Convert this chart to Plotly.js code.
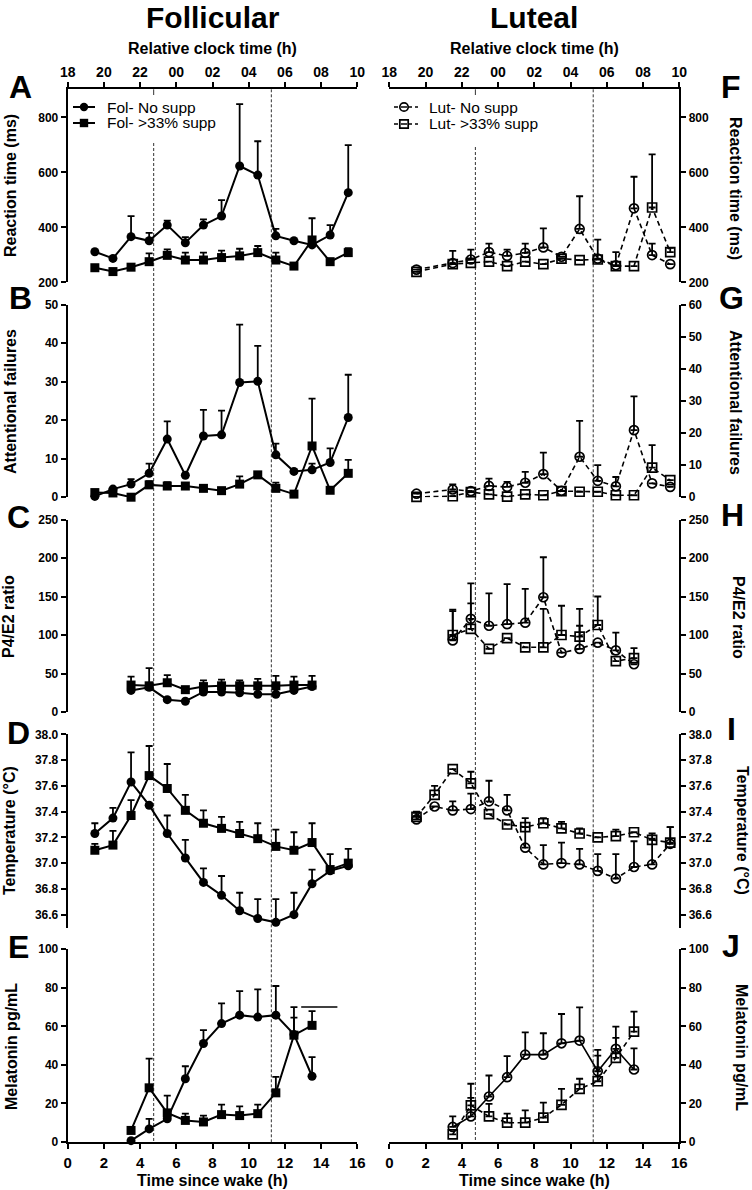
<!DOCTYPE html>
<html><head><meta charset="utf-8">
<script src="https://cdn.plot.ly/plotly-3.0.1.min.js"></script>
<style>html,body{margin:0;padding:0;background:#fff}</style>
</head><body><div id="chart" style="width:752px;height:1190px"></div>
<script>
const W = 752, H = 1190;
const FONT = 'Liberation Sans, Arial, Helvetica, sans-serif';

// ---------- DATA ----------
const hrsFol = [1.5,2.5,3.5,4.5,5.5,6.5,7.5,8.5,9.5,10.5,11.5,12.5,13.5,14.5,15.5];
const hrsLutPvt = [1.5,3.5,4.5,5.5,6.5,7.5,8.5,9.5,10.5,11.5,12.5,13.5,14.5,15.5];
const hrsTemp = [1.5,2.5,3.5,4.5,5.5,6.5,7.5,8.5,9.5,10.5,11.5,12.5,13.5,14.5,15.5];
const hrsHorm = [3.5,4.5,5.5,6.5,7.5,8.5,9.5,10.5,11.5,12.5,13.5];

const clockVals = [18,20,22,24,26,28,30,32,34];
const clockText = ['18','20','22','00','02','04','06','08','10'];
const wakeTicks = [0,2,4,6,8,10,12,14,16];
const markerLines = [4.75, 11.25];

// A: Reaction time, follicular
const rtFolNo     = [311,287,366,351,408,344,408,441,623,590,369,351,336,372,526];
const rtFolNoErr  = [0,0,75,29,16,20,21,58,225,123,25,0,0,36,173];
const rtFolSup    = [253,239,255,275,298,281,281,290,296,308,281,259,354,275,308];
const rtFolSupErr = [0,0,0,30,22,27,27,25,26,24,27,0,79,0,16];
// F: Reaction time, luteal
const rtLutNo     = [246,270,283,310,296,307,327,293,394,286,262,469,299,266];
const rtLutNoErr  = [0,44,36,31,23,34,69,0,119,69,48,115,42,0];
const rtLutSup    = [238,266,271,275,259,275,266,286,281,283,259,259,472,310];
const rtLutSupErr = [0,0,0,0,0,0,0,0,0,0,0,0,193,15];

// B: Attentional failures, follicular
const afFolNo     = [0.2,2.1,3.4,6.2,15.1,5.7,15.9,16.2,29.8,30.1,11.0,6.7,7.1,9.0,20.7];
const afFolNoErr  = [0,0,1.3,2.5,4.6,0,6.8,6.3,15.0,9.2,2.9,0,1.6,3.7,11.1];
const afFolSup    = [1.2,1.1,0.0,3.2,2.9,2.9,2.3,1.7,3.4,5.8,2.3,0.8,13.3,1.8,6.2];
const afFolSupErr = [0,0,0,1.0,1.0,0,0,0,2.0,0,1.5,0,12.3,0,3.5];
// G: Attentional failures, luteal
const afLutNo     = [1.1,2.4,1.9,3.5,3.2,4.5,7.2,2.0,12.6,5.1,3.4,20.9,4.3,3.2];
const afLutNoErr  = [0,1.6,0,2.3,1.6,3.4,6.7,0,11.2,4.9,2.9,10.5,0,0];
const afLutSup    = [0.1,0.3,1.6,0.9,0.2,0.9,0.6,1.9,1.7,1.7,0.6,0.6,9.2,5.3];
const afLutSupErr = [0,0,0,0,0,0,0,0,0,0,0,0,7.0,0];

// C: P4/E2 ratio, follicular
const peFolNo     = [28,32,16,14,26,26,25,23,23,28,33];
const peFolNoErr  = [0,0,0,0,0,0,0,0,0,0,0];
const peFolSup    = [35,34,38,29,33,34,34,34,34,35,35];
const peFolSupErr = [11,23,10,0,8,8,7,9,13,11,12];
// H: P4/E2 ratio, luteal
const peLutNo     = [93,121,112,114,116,149,77,82,90,80,62];
const peLutNoErr  = [38,46,42,52,44,52,0,30,0,23,0];
const peLutSup    = [100,108,82,96,84,84,100,98,113,66,70];
const peLutSupErr = [33,33,0,0,0,50,38,36,37,0,13];

// D: Temperature, follicular
const tFolNo     = [37.23,37.35,37.63,37.45,37.23,37.04,36.85,36.75,36.63,36.57,36.54,36.60,36.84,36.94,36.98];
const tFolNoErr  = [0.08,0.08,0.23,0,0.14,0.14,0.11,0.15,0.14,0.15,0.18,0.17,0.11,0,0];
const tFolSup    = [37.10,37.14,37.37,37.68,37.58,37.41,37.31,37.27,37.23,37.19,37.13,37.10,37.16,36.95,37.00];
const tFolSupErr = [0.05,0.11,0.12,0.23,0.19,0.12,0.10,0.09,0.09,0.12,0.13,0.14,0.15,0.12,0.11];
// I: Temperature, luteal
const tLutNo     = [37.34,37.44,37.41,37.42,37.48,37.41,37.12,36.99,37.00,36.99,36.94,36.88,36.97,36.99,37.15];
const tLutNoErr  = [0.05,0,0.07,0.12,0.16,0.12,0.16,0.15,0.16,0.12,0.13,0.19,0.20,0.20,0.13];
const tLutSup    = [37.36,37.53,37.73,37.62,37.38,37.30,37.28,37.31,37.27,37.23,37.20,37.21,37.24,37.18,37.16];
const tLutSupErr = [0.04,0.07,0,0.09,0,0,0.07,0.04,0.05,0.04,0,0.05,0,0.05,0.12];

// E: Melatonin, follicular
const melFolNo     = [0.7,6.8,12.0,32.8,51.1,61.4,65.8,64.8,65.8,55.8,34.1];
const melFolNoErr  = [0,5.2,4.0,6.5,6.9,10.5,12.5,14.4,15.1,14.2,9.9];
const melFolSup    = [6.0,28.1,15.1,11.2,10.4,14.2,13.7,14.7,25.5,55.4,60.5];
const melFolSupErr = [0,15.1,9.0,3.5,3.3,5.2,4.8,4.7,8.3,9.1,7.4];
const sigBarX = [12.9,14.9];
const sigBarY = [70,70];
// J: Melatonin, luteal
const melLutNo     = [7.8,13.3,23.6,33.6,45.3,45.3,51.2,52.6,36.7,48.3,37.6];
const melLutNoErr  = [5.5,16.9,10.9,10.9,11.6,11.1,15.2,17.2,11.1,11.5,11.0];
const melLutSup    = [4.0,19.0,13.3,10.0,10.0,12.6,19.3,27.6,31.5,43.6,57.2];
const melLutSupErr = [0,3.9,6.5,4.7,6.4,7.8,8.3,5.2,13.3,10.4,10.4];

// ---------- HELPERS ----------
const px = v => v / W;
const py = v => 1 - v / H;
const dom = (top, bot) => [1 - bot / H, 1 - top / H];

function series(x, y, err, xa, ya, sym, dash) {
  const open = sym.indexOf('open') >= 0;
  return {
    type: 'scatter', mode: 'lines+markers', x: x, y: y, xaxis: xa, yaxis: ya,
    cliponaxis: false, showlegend: false, hoverinfo: 'skip',
    line: {color: '#000', width: open ? 1.6 : 2, dash: dash},
    marker: {symbol: sym, size: 9, color: '#000', line: {color: '#000', width: open ? 1.7 : 0}},
    error_y: {type: 'data', symmetric: false, array: err, arrayminus: err.map(() => 0),
              color: '#000', thickness: 1.8, width: 3.5}
  };
}
const DASH = '5px,3.5px';

const data = [
  series(hrsFol, rtFolNo, rtFolNoErr, 'x', 'y', 'circle', 'solid'),
  series(hrsFol, rtFolSup, rtFolSupErr, 'x', 'y', 'square', 'solid'),
  series(hrsFol, afFolNo, afFolNoErr, 'x', 'y2', 'circle', 'solid'),
  series(hrsFol, afFolSup, afFolSupErr, 'x', 'y2', 'square', 'solid'),
  series(hrsHorm, peFolNo, peFolNoErr, 'x', 'y3', 'circle', 'solid'),
  series(hrsHorm, peFolSup, peFolSupErr, 'x', 'y3', 'square', 'solid'),
  series(hrsTemp, tFolNo, tFolNoErr, 'x', 'y4', 'circle', 'solid'),
  series(hrsTemp, tFolSup, tFolSupErr, 'x', 'y4', 'square', 'solid'),
  series(hrsHorm, melFolNo, melFolNoErr, 'x', 'y5', 'circle', 'solid'),
  series(hrsHorm, melFolSup, melFolSupErr, 'x', 'y5', 'square', 'solid'),
  {type:'scatter', mode:'lines', x: sigBarX, y: sigBarY, xaxis:'x', yaxis:'y5', cliponaxis:false,
   line:{color:'#000', width:1.5}, showlegend:false, hoverinfo:'skip'},

  series(hrsLutPvt, rtLutNo, rtLutNoErr, 'x2', 'y6', 'circle-open', DASH),
  series(hrsLutPvt, rtLutSup, rtLutSupErr, 'x2', 'y6', 'square-open', DASH),
  series(hrsLutPvt, afLutNo, afLutNoErr, 'x2', 'y7', 'circle-open', DASH),
  series(hrsLutPvt, afLutSup, afLutSupErr, 'x2', 'y7', 'square-open', DASH),
  series(hrsHorm, peLutNo, peLutNoErr, 'x2', 'y8', 'circle-open', DASH),
  series(hrsHorm, peLutSup, peLutSupErr, 'x2', 'y8', 'square-open', DASH),
  series(hrsTemp, tLutNo, tLutNoErr, 'x2', 'y9', 'circle-open', DASH),
  series(hrsTemp, tLutSup, tLutSupErr, 'x2', 'y9', 'square-open', DASH),
  series(hrsHorm, melLutNo, melLutNoErr, 'x2', 'y10', 'circle-open', 'solid'),
  series(hrsHorm, melLutSup, melLutSupErr, 'x2', 'y10', 'square-open', DASH),

  // carriers for the top clock-time axes
  {type:'scatter', mode:'markers', x: clockVals, y: clockVals.map(() => null), xaxis:'x3', yaxis:'y',
   showlegend:false, hoverinfo:'skip', marker:{opacity:0}},
  {type:'scatter', mode:'markers', x: clockVals, y: clockVals.map(() => null), xaxis:'x4', yaxis:'y6',
   showlegend:false, hoverinfo:'skip', marker:{opacity:0}}
];

// ---------- AXES ----------
const axBase = {
  showline: true, linecolor: '#000', linewidth: 2, ticks: 'outside', ticklen: 5, tickwidth: 2,
  tickcolor: '#000', showgrid: false, zeroline: false, fixedrange: true
};
const yTickFont = {family: FONT, size: 12, weight: 700, color: '#000'};
const xLeftDom = [px(67.7), px(357.3)];
const xRightDom = [px(389.3), px(679.3)];

function yax(domain, range, tickvals, anchor, side, fmt) {
  const a = Object.assign({}, axBase, {domain: domain, range: range, tickvals: tickvals,
    anchor: anchor, side: side, tickfont: yTickFont});
  if (fmt) a.tickformat = fmt;
  return a;
}

const domA = dom(89.3, 282.3), domB = dom(304.7, 497.2), domC = dom(519.5, 712.0),
      domD = dom(734.4, 927.5), domE = dom(949.2, 1142.0);

const layout = {
  width: W, height: H, margin: {l: 0, r: 0, t: 0, b: 0},
  paper_bgcolor: '#fff', plot_bgcolor: 'rgba(0,0,0,0)',
  font: {family: FONT, color: '#000'},
  showlegend: false,
  xaxis: Object.assign({}, axBase, {domain: xLeftDom, range: [0,16], anchor: 'y5', tickvals: wakeTicks,
    ticklabelstandoff: 1, tickfont: {family: FONT, size: 15, weight: 700, color: '#000'}}),
  xaxis2: Object.assign({}, axBase, {domain: xRightDom, range: [0,16], anchor: 'y10', tickvals: wakeTicks,
    ticklabelstandoff: 1, tickfont: {family: FONT, size: 15, weight: 700, color: '#000'}}),
  xaxis3: Object.assign({}, axBase, {overlaying: 'x', side: 'top', anchor: 'y', range: [18,34],
    tickvals: clockVals, ticktext: clockText, tickfont: {family: FONT, size: 14, weight: 700, color: '#000'}}),
  xaxis4: Object.assign({}, axBase, {overlaying: 'x2', side: 'top', anchor: 'y6', range: [18,34],
    tickvals: clockVals, ticktext: clockText, tickfont: {family: FONT, size: 14, weight: 700, color: '#000'}}),
  yaxis:   yax(domA, [200, 902], [200,400,600,800], 'x', 'left'),
  yaxis2:  yax(domB, [0, 50], [0,10,20,30,40,50], 'x', 'left'),
  yaxis3:  yax(domC, [0, 250], [0,50,100,150,200,250], 'x', 'left'),
  yaxis4:  yax(domD, [36.5, 38.0], [36.6,36.8,37.0,37.2,37.4,37.6,37.8,38.0], 'x', 'left', '.1f'),
  yaxis5:  yax(domE, [0, 100], [0,20,40,60,80,100], 'x', 'left'),
  yaxis6:  yax(domA, [200, 902], [200,400,600,800], 'x2', 'right'),
  yaxis7:  yax(domB, [0, 60], [0,10,20,30,40,50,60], 'x2', 'right'),
  yaxis8:  yax(domC, [0, 250], [0,50,100,150,200,250], 'x2', 'right'),
  yaxis9:  yax(domD, [36.5, 38.0], [36.6,36.8,37.0,37.2,37.4,37.6,37.8,38.0], 'x2', 'right', '.1f'),
  yaxis10: yax(domE, [0, 100], [0,20,40,60,80,100], 'x2', 'right'),
  shapes: [],
  annotations: []
};

// vertical reference lines
const vline = (xref, x, y0, y1, dash) => ({type: 'line', xref: xref, yref: 'paper', x0: x, x1: x,
  y0: py(y0), y1: py(y1), layer: 'below', line: {color: '#333', width: 1, dash: dash}});
layout.shapes.push(
  vline('x', markerLines[0], 143, 1142, '3px,2px'), vline('x', markerLines[0], 89.3, 95, 'solid'),
  vline('x', markerLines[1], 89.3, 1142, '3px,2px'),
  vline('x2', markerLines[0], 147, 1142, '3px,2px'), vline('x2', markerLines[0], 89.3, 95, 'solid'),
  vline('x2', markerLines[1], 89.3, 1142, '3px,2px')
);

// manual legends
function legendRow(x0, x1, cx, cy, shape, open, dash) {
  layout.shapes.push({type: 'line', xref: 'paper', yref: 'paper', x0: px(x0), x1: px(x1),
    y0: py(cy), y1: py(cy), line: {color: '#000', width: open ? 1.6 : 2, dash: dash}});
  layout.shapes.push({type: shape, xref: 'paper', yref: 'paper', x0: px(cx - 4.2), x1: px(cx + 4.2),
    y0: py(cy + 4.2), y1: py(cy - 4.2), fillcolor: open ? '#fff' : '#000',
    line: {color: '#000', width: open ? 1.7 : 0}});
  if (open) layout.shapes.push({type: 'line', xref: 'paper', yref: 'paper', x0: px(cx - 3), x1: px(cx + 3),
    y0: py(cy), y1: py(cy), line: {color: '#000', width: 1.5}});
}
legendRow(73, 95, 84, 107, 'circle', false, 'solid');
legendRow(73, 95, 84, 123, 'rect', false, 'solid');
legendRow(394, 418, 404, 107, 'circle', true, '4px,3px');
legendRow(394, 418, 404, 124, 'rect', true, '4px,3px');

function ann(text, x, y, size, opts) {
  layout.annotations.push(Object.assign({text: text, xref: 'paper', yref: 'paper', x: px(x), y: py(y),
    xanchor: 'center', yanchor: 'middle', showarrow: false,
    font: {family: FONT, size: size, color: '#000', weight: 700}}, opts || {}));
}
const legFont = {family: FONT, size: 15.5, color: '#000', weight: 400};
ann('Fol- No supp', 105, 107, 15.5, {xanchor: 'left', font: legFont});
ann('Fol- >33% supp', 105, 123, 15.5, {xanchor: 'left', font: legFont});
ann('Lut- No supp', 427, 107, 15.5, {xanchor: 'left', font: legFont});
ann('Lut- >33% supp', 427, 124, 15.5, {xanchor: 'left', font: legFont});

// column titles
ann('Follicular', 212.5, 0, 30, {yanchor: 'top', borderpad: 0});
ann('Luteal', 534.3, 0, 30, {yanchor: 'top', borderpad: 0});
ann('Relative clock time (h)', 212.5, 49, 16);
ann('Relative clock time (h)', 534.3, 49, 16);
ann('Time since wake (h)', 212.5, 1190, 16, {yanchor: 'bottom', borderpad: 0});
ann('Time since wake (h)', 534.3, 1190, 16, {yanchor: 'bottom', borderpad: 0});

// y titles
const leftTitles = [['Reaction time (ms)', 10, 186], ['Attentional failures', 10, 402],
  ['P4/E2 ratio', 8, 617], ['Temperature (°C)', 9, 831], ['Melatonin pg/mL', 11, 1047]];
const rightTitles = [['Reaction time (ms)', 736, 188], ['Attentional failures', 736, 402],
  ['P4/E2 ratio', 739, 617], ['Temperature (°C)', 743, 830], ['Melatonin pg/mL', 742, 1047]];
leftTitles.forEach(t => ann(t[0], t[1], t[2], 16, {textangle: -90}));
rightTitles.forEach(t => ann(t[0], t[1], t[2], 16, {textangle: 90}));

// panel letters
const letters = [['A', 20, 87], ['B', 20, 298], ['C', 18, 517], ['D', 18, 733], ['E', 18, 947],
  ['F', 731, 87], ['G', 731, 298], ['H', 732, 515], ['I', 731, 729], ['J', 731, 946]];
letters.forEach(l => ann(l[0], l[1], l[2], 32));

Plotly.newPlot('chart', data, layout, {staticPlot: true, displayModeBar: false});
</script></body></html>
